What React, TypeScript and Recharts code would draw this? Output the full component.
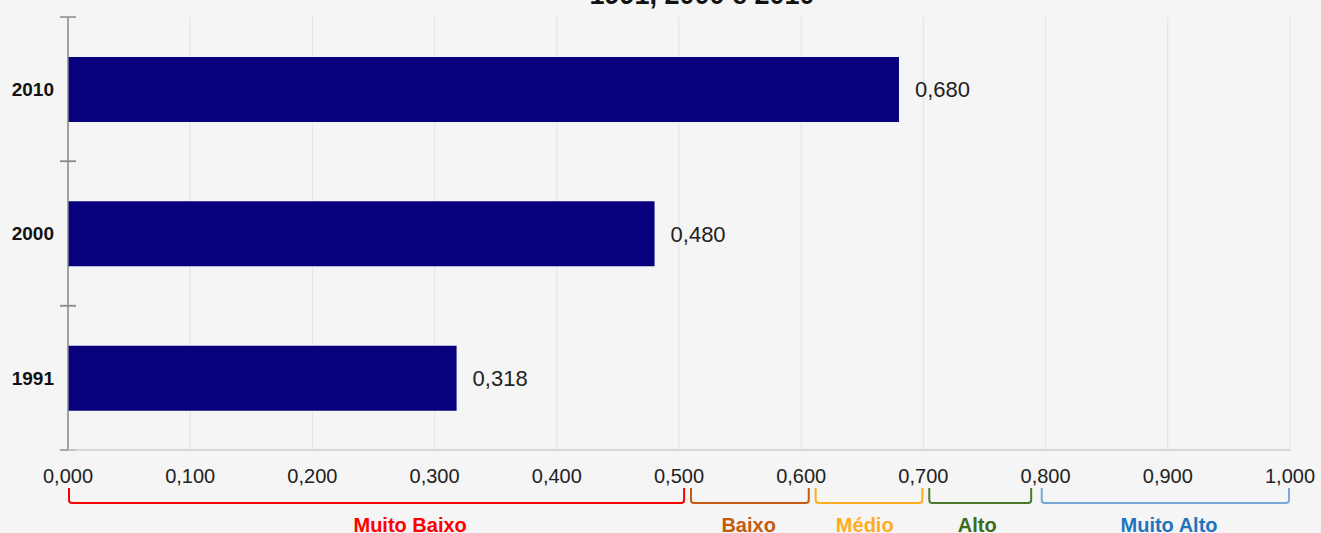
import React from "react";
import {
  BarChart,
  Bar,
  XAxis,
  YAxis,
  CartesianGrid,
  LabelList,
  ReferenceArea,
} from "recharts";

const years = ["2010", "2000", "1991"];
const idhm = [0.68, 0.48, 0.318];
const xTicks = [0, 0.1, 0.2, 0.3, 0.4, 0.5, 0.6, 0.7, 0.8, 0.9, 1.0];

const rangeNames = ["Muito Baixo", "Baixo", "Médio", "Alto", "Muito Alto"];
const rangeStart = [0.0, 0.509, 0.611, 0.704, 0.796];
const rangeEnd = [0.505, 0.607, 0.7, 0.789, 1.0];
const rangeLabelAt = [0.28, 0.557, 0.652, 0.744, 0.901];
const rangeLineColors = ["#ff0000", "#c55a11", "#ffad1f", "#4a7a2a", "#78a7d8"];
const rangeTextColors = ["#ff0000", "#c55a11", "#ffad1f", "#3d6b1e", "#1f74bd"];

const data = years.map((y, i) => ({ year: y, value: idhm[i] }));

const FONT = "'Liberation Sans', Arial, sans-serif";

const fmt = (v: number) => v.toFixed(3).replace(".", ",");

const BandTicks = (props: any) => {
  const { x, y, height } = props;
  return (
    <g>
      <line x1={x - 8} x2={x + 8} y1={y} y2={y} stroke="#8a8a8a" strokeWidth={1.5} />
      <line x1={x - 8} x2={x + 8} y1={y + height} y2={y + height} stroke="#8a8a8a" strokeWidth={1.5} />
    </g>
  );
};

const makeBracket = (i: number) => (props: any) => {
  const { x, y, width, height } = props;
  const top = y + height + 38;
  const bottom = y + height + 53;
  const x1 = x + 1;
  const x2 = x + width - 1;
  const r = 3;
  const d = `M${x1},${top} L${x1},${bottom - r} Q${x1},${bottom} ${x1 + r},${bottom} L${x2 - r},${bottom} Q${x2},${bottom} ${x2},${bottom - r} L${x2},${top}`;
  const lx = x + (width * (rangeLabelAt[i] - rangeStart[i])) / (rangeEnd[i] - rangeStart[i]);
  return (
    <g>
      <path d={d} fill="none" stroke={rangeLineColors[i]} strokeWidth={2} />
      <text
        x={lx}
        y={y + height + 82}
        textAnchor="middle"
        fontFamily={FONT}
        fontWeight="bold"
        fontSize={20}
        fill={rangeTextColors[i]}
      >
        {rangeNames[i]}
      </text>
    </g>
  );
};

export default function App() {
  return (
    <div
      style={{
        position: "absolute",
        left: 0,
        top: 0,
        width: 1321,
        height: 533,
        background: "#f5f5f5",
        overflow: "hidden",
        fontFamily: FONT,
      }}
    >
      <BarChart
        width={1321}
        height={533}
        data={data}
        layout="vertical"
        margin={{ top: 17, right: 31, left: 0, bottom: 0 }}
        style={{ position: "absolute", left: 0, top: 0 }}
      >
        <CartesianGrid horizontal={false} vertical stroke="#e3e3e3" strokeWidth={1} />
        <YAxis
          dataKey="year"
          type="category"
          width={68}
          tickSize={6}
          tickMargin={8}
          tickLine={false}
          axisLine={{ stroke: "#8a8a8a", strokeWidth: 1.5 }}
          tick={{ fontSize: 19, fontWeight: "bold", fill: "#111", fontFamily: FONT }}
        />
        <XAxis
          type="number"
          domain={[0, 1]}
          ticks={xTicks}
          tickFormatter={fmt}
          height={83}
          tickLine={false}
          tickSize={6}
          tickMargin={13}
          axisLine={{ stroke: "#cccccc", strokeWidth: 1.5 }}
          tick={{ fontSize: 20, fill: "#222", fontFamily: FONT }}
          interval={0}
        />
        {years.map((yr) => (
          <ReferenceArea
            key={"band" + yr}
            y1={yr}
            y2={yr}
            ifOverflow="visible"
            shape={<BandTicks />}
          />
        ))}
        {rangeNames.map((n, i) => (
          <ReferenceArea
            key={n}
            x1={rangeStart[i]}
            x2={rangeEnd[i]}
            ifOverflow="visible"
            shape={makeBracket(i)}
          />
        ))}
        <Bar dataKey="value" fill="#09007e" barSize={65} isAnimationActive={false}>
          <LabelList
            dataKey="value"
            position="right"
            offset={16}
            formatter={(v: any) => fmt(Number(v))}
            style={{ fontSize: 22, fill: "#222", fontFamily: FONT }}
          />
        </Bar>
      </BarChart>
      <svg
        width={1321}
        height={30}
        style={{ position: "absolute", left: 0, top: 0 }}
      >
        <text
          x={702}
          y={4}
          textAnchor="middle"
          fontFamily={FONT}
          fontWeight="bold"
          fontSize={27}
          fill="#111"
        >
          1991, 2000 e 2010
        </text>
      </svg>
    </div>
  );
}
